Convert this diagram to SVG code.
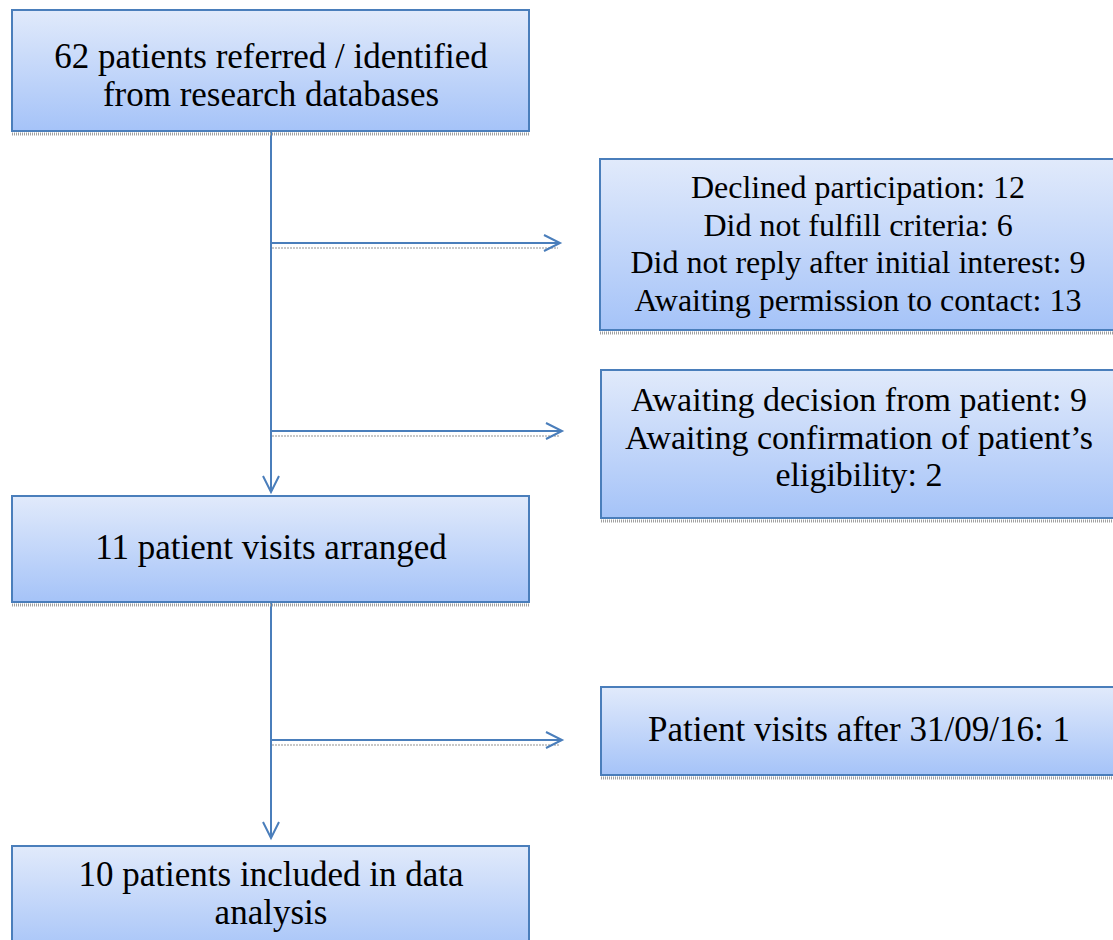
<svg xmlns="http://www.w3.org/2000/svg" width="1113" height="940" viewBox="0 0 1113 940">
<defs>
<linearGradient id="g" x1="0" y1="0" x2="0" y2="1">
<stop offset="0" stop-color="#e1eafb"/>
<stop offset="1" stop-color="#a5c3f8"/>
</linearGradient>
<marker id="ah" markerWidth="20" markerHeight="20" refX="17" refY="9" orient="auto" markerUnits="userSpaceOnUse">
<path d="M1,1 L17,9 L1,17" fill="none" stroke="#4a7ebb" stroke-width="2"/>
</marker>
</defs>
<style>
.box{fill:url(#g);stroke:#4a7ebb;stroke-width:2}
.sh{fill:none;stroke:#a0a0a0;stroke-width:3;stroke-dasharray:1 1}
.t{font-family:"Liberation Serif","Times New Roman",serif;font-size:35px;fill:#000;text-anchor:middle}
.tt{font-size:32px}
.t3{font-size:34px}
.c{stroke:#4a7ebb;stroke-width:2;fill:none}
.cs{stroke:#c8c8c8;stroke-width:2;fill:none;stroke-dasharray:2 1}
</style>
<g id="connectors">
<line class="cs" x1="272" y1="248" x2="558" y2="248"/>
<line class="cs" x1="272" y1="436" x2="560" y2="436"/>
<line class="cs" x1="272" y1="745" x2="560" y2="745"/>
<line class="c" x1="271" y1="132" x2="271" y2="492" marker-end="url(#ah)"/>
<line class="c" x1="271" y1="243" x2="560" y2="243" marker-end="url(#ah)"/>
<line class="c" x1="271" y1="431" x2="562" y2="431" marker-end="url(#ah)"/>
<line class="c" x1="271" y1="603" x2="271" y2="838" marker-end="url(#ah)"/>
<line class="c" x1="271" y1="740" x2="562" y2="740" marker-end="url(#ah)"/>
</g>
<g id="n1">
<line class="sh" x1="12" y1="134" x2="530" y2="134"/>
<rect class="box" x="12" y="10" width="517" height="121"/>
<text class="t" x="271" y="68">62 patients referred / identified</text>
<text class="t" x="271" y="106">from research databases</text>
</g>
<g id="n2">
<line class="sh" x1="600" y1="333" x2="1113" y2="333"/>
<rect class="box" x="600" y="159" width="520" height="171"/>
<text class="t tt" x="858" y="198">Declined participation: 12</text>
<text class="t tt" x="858" y="236">Did not fulfill criteria: 6</text>
<text class="t tt" x="858" y="273">Did not reply after initial interest: 9</text>
<text class="t tt" x="858" y="311">Awaiting permission to contact: 13</text>
</g>
<g id="n3">
<line class="sh" x1="601" y1="521" x2="1113" y2="521"/>
<rect class="box" x="601" y="370" width="520" height="148"/>
<text class="t t3" x="859" y="411">Awaiting decision from patient: 9</text>
<text class="t t3" x="859" y="449">Awaiting confirmation of patient’s</text>
<text class="t t3" x="859" y="486">eligibility: 2</text>
</g>
<g id="n4">
<line class="sh" x1="12" y1="605" x2="530" y2="605"/>
<rect class="box" x="12" y="496" width="517" height="106"/>
<text class="t" x="271" y="559">11 patient visits arranged</text>
</g>
<g id="n5">
<line class="sh" x1="601" y1="778" x2="1113" y2="778"/>
<rect class="box" x="601" y="687" width="520" height="88"/>
<text class="t" x="859" y="741">Patient visits after 31/09/16: 1</text>
</g>
<g id="n6">
<rect class="box" x="12" y="846" width="517" height="110"/>
<text class="t" x="271" y="886">10 patients included in data</text>
<text class="t" x="271" y="924">analysis</text>
</g>
</svg>
